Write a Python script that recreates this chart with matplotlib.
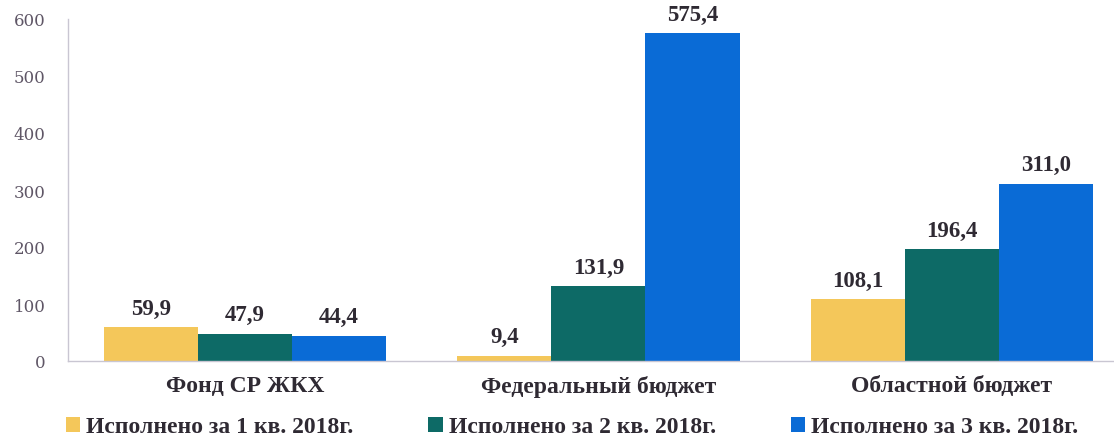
import matplotlib
matplotlib.use("Agg")
import matplotlib.pyplot as plt
import numpy as np

# ── Data ──────────────────────────────────────────────────
categories = ["Фонд СР ЖКХ", "Федеральный бюджет", "Областной бюджет"]
series_names = ["Исполнено за 1 кв. 2018г.",
                "Исполнено за 2 кв. 2018г.",
                "Исполнено за 3 кв. 2018г."]
q1 = [59.9, 9.4, 108.1]
q2 = [47.9, 131.9, 196.4]
q3 = [44.4, 575.4, 311.0]
yticks = [0, 100, 200, 300, 400, 500, 600]

YELLOW = "#F4C75A"
TEAL   = "#0D6A66"
BLUE   = "#0A6BD6"
DARK   = "#2f2a33"

plt.rcParams["font.family"] = ["Liberation Serif", "DejaVu Serif"]

fig = plt.figure(figsize=(11.14, 4.39), dpi=100)
ax = fig.add_axes([68 / 1114, 77 / 439, (1114 - 68) / 1114, (362 - 20) / 439])

x = np.arange(len(categories))
w = 0.266
colors = [YELLOW, TEAL, BLUE]
for i, (vals, name, c) in enumerate(zip([q1, q2, q3], series_names, colors)):
    bars = ax.bar(x + (i - 1) * w, vals, w, color=c, label=name, linewidth=0)
    for b, v in zip(bars, vals):
        ax.annotate(f"{v:.1f}".replace(".", ","),
                    (b.get_x() + b.get_width() / 2, b.get_height()),
                    xytext=(0, 6), textcoords="offset points",
                    ha="center", va="bottom", fontsize=16.5,
                    fontweight="bold", color=DARK)

ax.set_xlim(-0.5, 2.458)
ax.set_ylim(0, 600)
ax.set_yticks(yticks)
ax.set_yticklabels([str(t) for t in yticks], fontsize=12,
                   color="#5f5666", family="DejaVu Serif")
ax.set_xticks(x)
ax.set_xticklabels(categories, fontsize=17, fontweight="bold", color=DARK)
ax.tick_params(axis="both", length=0)
ax.tick_params(axis="y", pad=16)
ax.tick_params(axis="x", pad=10)

for s in ["top", "right"]:
    ax.spines[s].set_visible(False)
ax.spines["left"].set_color("#c9c6d2")
ax.spines["bottom"].set_color("#c9c6d2")
ax.spines["left"].set_linewidth(1.0)
ax.spines["bottom"].set_linewidth(1.0)

leg = fig.legend(loc="center", bbox_to_anchor=(572 / 1114, 1 - 428 / 439),
                 ncol=3, frameon=False,
                 prop={"size": 17, "weight": "bold"},
                 handlelength=0.6, handleheight=0.6, handletextpad=0.25,
                 columnspacing=3.2, borderpad=0.1)
for t in leg.get_texts():
    t.set_color(DARK)

fig.savefig("out.png", dpi=100)
